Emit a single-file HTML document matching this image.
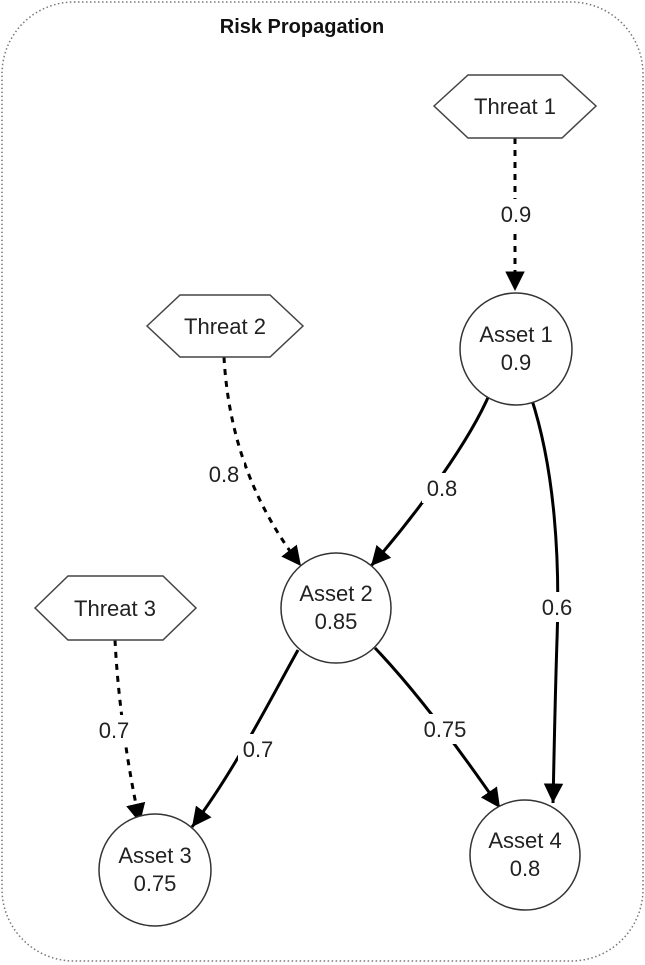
<!DOCTYPE html>
<html><head><meta charset="utf-8"><style>
html,body{margin:0;padding:0;background:#fff;}
svg{display:block;}
text{font-family:"Liberation Sans",Arial,sans-serif;fill:#222;}
</style></head><body>
<svg width="645" height="965" viewBox="0 0 645 965" xmlns="http://www.w3.org/2000/svg">
<defs>
<marker id="ah" viewBox="0 0 10 10" refX="10" refY="5" markerWidth="6.5" markerHeight="6.5" orient="auto" markerUnits="strokeWidth">
<path d="M0,0 L10,5 L0,10 z" fill="#000"/>
</marker>
</defs>
<rect x="2" y="2" width="641" height="959" rx="72" ry="72" fill="none" stroke="#777" stroke-width="1.5" stroke-dasharray="1.5,2.5"/>
<text x="302" y="33" font-size="20" font-weight="bold" text-anchor="middle" style="fill:#111">Risk Propagation</text>

<!-- edges -->
<g fill="none" stroke="#000" stroke-width="3">
<path d="M515,138 L515,291" stroke-dasharray="6,6" marker-end="url(#ah)"/>
<path d="M224,357 C228,430 250,500 301,566" stroke-dasharray="6,6" marker-end="url(#ah)"/>
<path d="M115,640 C118,700 128,770 140,823" stroke-dasharray="6,6" marker-end="url(#ah)"/>
<path d="M490,393 C470,440 420,510 371,566" marker-end="url(#ah)"/>
<path d="M531,397 C555,470 560,560 557,640 C555,700 554,760 553,803" marker-end="url(#ah)"/>
<path d="M298,650 C270,700 235,770 192,827" marker-end="url(#ah)"/>
<path d="M375,648 C415,690 460,750 500,808" marker-end="url(#ah)"/>
</g>

<!-- edge labels -->
<g font-size="22" text-anchor="middle">
<rect x="496" y="199" width="40" height="30" fill="#fff"/>
<text x="516" y="222">0.9</text>
<rect x="204" y="459" width="40" height="30" fill="#fff"/>
<text x="224" y="482">0.8</text>
<rect x="422" y="473" width="40" height="30" fill="#fff"/>
<text x="442" y="496">0.8</text>
<rect x="537" y="592" width="40" height="30" fill="#fff"/>
<text x="557" y="615">0.6</text>
<rect x="94" y="715" width="40" height="30" fill="#fff"/>
<text x="114" y="738">0.7</text>
<rect x="238" y="734" width="40" height="30" fill="#fff"/>
<text x="258" y="757">0.7</text>
<rect x="418" y="714" width="54" height="30" fill="#fff"/>
<text x="445" y="737">0.75</text>
</g>

<!-- threats -->
<g fill="#fff" stroke="#444" stroke-width="1.5">
<polygon points="434,106 468,75 562,75 596,106 562,138 468,138"/>
<polygon points="147,326 180,295 270,295 303,326 270,357 180,357"/>
<polygon points="35,608 68,576 163,576 196,608 163,640 68,640"/>
</g>
<g font-size="22" text-anchor="middle">
<text x="515" y="114">Threat 1</text>
<text x="225" y="334">Threat 2</text>
<text x="115" y="616">Threat 3</text>
</g>

<!-- assets -->
<g fill="#fff" stroke="#333" stroke-width="1.5">
<circle cx="516" cy="349" r="56"/>
<circle cx="336" cy="608" r="55"/>
<circle cx="155" cy="870" r="56"/>
<circle cx="525" cy="855" r="55"/>
</g>
<g font-size="22" text-anchor="middle">
<text x="516" y="342">Asset 1</text><text x="516" y="370">0.9</text>
<text x="336" y="601">Asset 2</text><text x="336" y="629">0.85</text>
<text x="155" y="863">Asset 3</text><text x="155" y="891">0.75</text>
<text x="525" y="848">Asset 4</text><text x="525" y="876">0.8</text>
</g>
</svg>
</body></html>
